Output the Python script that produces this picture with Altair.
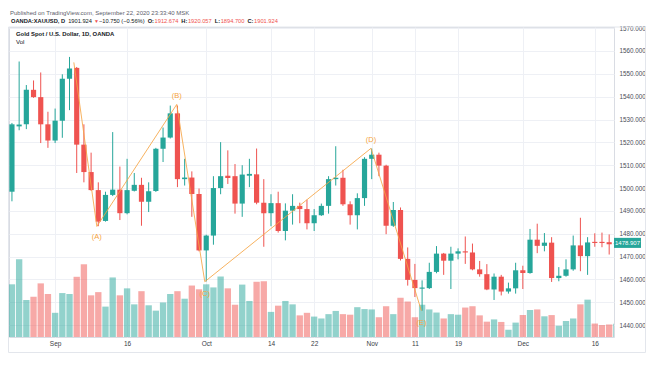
import altair as alt
import pandas as pd
import numpy as np

# ---------------- data ----------------
tick_idx = [6, 16, 27, 36, 42, 50, 56, 62, 71, 81]
tick_labels = ["Sep", "16", "Oct", "14", "22", "Nov", "11", "19", "Dec", "16"]
price_ticks = [1440, 1450, 1460, 1470, 1480, 1490, 1500, 1510, 1520, 1530, 1540, 1550, 1560, 1570]

opens = [1498.4, 1527.0, 1527.9, 1543.0, 1539.8, 1527.9, 1520.8, 1529.5, 1547.8, 1552.6,
         1519.0, 1507.0, 1499.1, 1485.6, 1497.0, 1499.3, 1489.0, 1498.8, 1501.4, 1494.0,
         1498.7, 1517.2, 1522.1, 1532.7, 1503.9, 1504.6, 1497.4, 1472.7, 1479.2, 1500.0,
         1505.4, 1505.2, 1493.2, 1505.4, 1506.0, 1493.6, 1489.0, 1493.4, 1481.2, 1490.1,
         1492.2, 1490.8, 1484.6, 1488.1, 1492.2, 1503.9, 1504.5, 1492.9, 1488.1, 1495.6,
         1512.8, 1514.6, 1509.8, 1483.5, 1490.4, 1469.0, 1459.8, 1456.0, 1456.2, 1463.3,
         1471.3, 1468.2, 1471.3, 1472.3, 1471.8, 1464.4, 1462.3, 1455.6, 1461.2, 1454.7,
         1456.1, 1464.0, 1462.8, 1477.4, 1474.7, 1476.1, 1460.6, 1461.6, 1464.4, 1474.9,
         1470.2, 1476.4, 1476.4, 1476.3, 1475.4]
highs = [1528.5, 1555.4, 1545.1, 1547.1, 1550.6, 1533.4, 1534.8, 1549.8, 1557.4, 1553.0,
         1527.9, 1515.5, 1502.5, 1498.4, 1524.5, 1509.4, 1512.8, 1506.6, 1504.5, 1502.5,
         1517.6, 1526.5, 1536.1, 1536.1, 1512.8, 1507.3, 1499.8, 1479.6, 1505.2, 1520.1,
         1516.5, 1510.5, 1510.0, 1512.8, 1517.3, 1503.9, 1497.3, 1498.4, 1493.3, 1497.3,
         1493.6, 1494.9, 1490.8, 1493.2, 1505.2, 1518.3, 1508.0, 1494.2, 1497.7, 1513.5,
         1517.3, 1515.5, 1510.2, 1493.9, 1491.5, 1474.0, 1466.8, 1459.6, 1467.3, 1474.6,
         1471.6, 1474.3, 1473.6, 1478.8, 1475.7, 1468.1, 1466.7, 1462.6, 1462.0, 1458.6,
         1467.3, 1466.0, 1482.1, 1484.4, 1480.3, 1478.5, 1465.4, 1468.8, 1479.2, 1487.0,
         1478.5, 1480.2, 1480.5, 1479.7, 1479.0]
lows = [1494.2, 1525.3, 1525.8, 1539.5, 1519.7, 1517.6, 1519.7, 1522.0, 1534.1, 1506.6,
        1502.5, 1498.8, 1483.3, 1485.3, 1496.5, 1486.0, 1488.5, 1498.5, 1483.5, 1489.5,
        1498.3, 1511.4, 1521.7, 1500.4, 1501.1, 1487.4, 1472.3, 1459.1, 1475.2, 1497.3,
        1501.8, 1488.8, 1487.4, 1500.4, 1492.9, 1474.3, 1483.3, 1480.5, 1477.1, 1484.0,
        1484.6, 1481.9, 1481.2, 1487.8, 1488.8, 1501.1, 1492.2, 1484.0, 1481.9, 1492.2,
        1503.9, 1505.2, 1479.8, 1483.0, 1468.3, 1457.3, 1452.3, 1446.3, 1455.8, 1462.7,
        1462.0, 1455.8, 1468.8, 1466.8, 1464.0, 1461.2, 1455.3, 1451.0, 1453.0, 1453.8,
        1453.8, 1455.8, 1462.5, 1471.5, 1472.3, 1458.9, 1459.2, 1461.2, 1463.8, 1463.6,
        1462.0, 1474.3, 1474.1, 1470.9, 1473.0]
closes = [1527.9, 1527.8, 1543.0, 1539.8, 1527.9, 1520.8, 1529.5, 1547.8, 1552.3, 1519.0,
          1507.0, 1499.1, 1485.3, 1497.0, 1499.3, 1489.0, 1499.1, 1501.4, 1494.0, 1498.6,
          1517.2, 1522.1, 1532.7, 1503.9, 1504.6, 1497.4, 1472.7, 1479.2, 1500.0, 1505.2,
          1504.4, 1493.2, 1505.9, 1506.2, 1493.6, 1489.0, 1493.4, 1481.2, 1490.1, 1492.2,
          1490.8, 1484.6, 1488.1, 1492.2, 1503.9, 1504.5, 1492.9, 1488.1, 1495.6, 1512.8,
          1514.6, 1509.8, 1483.5, 1490.4, 1469.0, 1459.8, 1456.2, 1456.4, 1463.3, 1471.3,
          1468.2, 1471.3, 1472.3, 1471.8, 1464.4, 1462.3, 1455.6, 1461.2, 1454.7, 1456.1,
          1464.0, 1462.8, 1477.4, 1474.7, 1476.1, 1460.6, 1461.6, 1464.4, 1474.9, 1470.2,
          1476.2, 1476.0, 1476.0, 1475.4, 1476.0]
volumes = [56.0, 82.7, 39.3, 42.7, 57.0, 45.7, 25.7, 46.7, 45.7, 64.0,
           77.3, 44.3, 47.7, 32.3, 63.3, 44.3, 51.7, 34.7, 48.7, 33.7,
           28.0, 36.7, 45.7, 48.7, 40.7, 54.7, 50.7, 56.0, 52.7, 64.3,
           51.7, 34.3, 55.7, 38.3, 58.7, 59.3, 26.7, 33.3, 38.3, 34.7,
           23.0, 25.7, 21.7, 19.7, 24.3, 27.7, 24.3, 23.7, 31.7, 29.7,
           29.3, 21.0, 32.7, 24.3, 41.7, 37.7, 21.0, 34.3, 29.3, 26.0,
           19.7, 24.3, 23.7, 31.3, 32.7, 23.0, 16.3, 18.7, 16.0, 7.7,
           15.3, 23.3, 28.7, 29.3, 22.0, 23.3, 12.0, 17.0, 19.7, 34.7,
           39.7, 14.3, 12.7, 13.3, 14.0]

wave_idx = [8.6, 11.8, 22.9, 26.8, 49.9, 56.9]
wave_price = [1555.0, 1483.2, 1536.6, 1459.0, 1517.4, 1446.3]
wave_names = ["(A)", "(B)", "(C)", "(D)", "(E)"]
wave_label_idx = [11.8, 22.9, 26.8, 49.9, 56.9]
wave_label_price = [1478.5, 1540.3, 1453.5, 1521.1, 1441.1]
last_price_text = "1478.907"

header_line1 = "Published on TradingView.com, September 22, 2020 23:33:40 MSK"
# (text, colour key, bold, gap after)
header_line2 = [
    ("OANDA:XAUUSD, D", "dark", True, 3.0),
    ("1901.924", "dark", False, 2.0),
    ("▼", "red", False, 2.0),
    ("−10.750 (−0.56%)", "dark", False, 3.0),
    ("O:", "dark", True, 0.6),
    ("1912.674", "red", False, 3.0),
    ("H:", "dark", True, 0.6),
    ("1920.057", "red", False, 3.0),
    ("L:", "dark", True, 0.6),
    ("1894.700", "red", False, 3.0),
    ("C:", "dark", True, 0.6),
    ("1901.924", "red", False, 0.0),
]
legend_title = "Gold Spot / U.S. Dollar, 1D, OANDA"
legend_sub = "Vol"

# ---------------- frames ----------------
n = len(opens)
assert len(highs) == n and len(lows) == n and len(closes) == n and len(volumes) == n
df = pd.DataFrame({"idx": np.arange(n), "open": opens, "high": highs, "low": lows,
                   "close": closes, "vol": volumes})
df["dir"] = np.where(df["close"] >= df["open"], "up", "down")
df["btop"] = df[["open", "close"]].max(axis=1)
df["bbot"] = df[["open", "close"]].min(axis=1)
mid = (df["btop"] + df["bbot"]) / 2
small = (df["btop"] - df["bbot"]) < 0.5
df.loc[small, "btop"] = mid[small] + 0.25
df.loc[small, "bbot"] = mid[small] - 0.25
df["x1"] = df["idx"] - 0.36
df["x2"] = df["idx"] + 0.36
df["vx1"] = df["idx"] - 0.44
df["vx2"] = df["idx"] + 0.44
df["vzero"] = 0.0

wave_df = pd.DataFrame({"idx": wave_idx, "price": wave_price, "ord": range(len(wave_idx))})
wlab_df = pd.DataFrame({"idx": wave_label_idx, "price": wave_label_price, "name": wave_names})

last_close = closes[-1]
lp_df = pd.DataFrame({"close": [last_close], "lo": [last_close - 2.2], "hi": [last_close + 2.2],
                      "t": [last_price_text]})
one = pd.DataFrame({"a": [0]})

# ---------------- scales / axes ----------------
FONT = "Liberation Sans"
W, H = 605, 310
xscale = alt.Scale(domain=[-0.41, 83.67], nice=False, zero=False)
pscale = alt.Scale(domain=[1434.8, 1570.5], nice=False, zero=False)
vscale = alt.Scale(domain=[0, 329.5], nice=False, zero=False)
cscale = alt.Scale(domain=["up", "down"], range=["#26a69a", "#ef5350"])

expr = " : ".join(f"datum.value == {i} ? '{l}'" for i, l in zip(tick_idx, tick_labels)) + " : ''"
xaxis = alt.Axis(values=tick_idx, labelExpr=expr, title=None, grid=True, gridColor="#eef0f5",
                 ticks=False, domain=False, labelFontSize=6.5, labelColor="#3a3d46",
                 labelPadding=3, labelFont=FONT, labelOverlap=False, labelFlush=False)
yaxis = alt.Axis(orient="right", values=price_ticks, format=".3f", title=None, grid=True,
                 gridColor="#eef0f5", ticks=False, domain=False, labelFontSize=6.3,
                 labelColor="#4a4d57", labelPadding=5, labelFont=FONT, labelOverlap=False,
                 labelFlush=False)

X = alt.X("idx:Q", scale=xscale, axis=xaxis)

vol = alt.Chart(df).mark_rect(opacity=0.5, clip=True).encode(
    x=alt.X("vx1:Q", scale=xscale, axis=xaxis), x2="vx2:Q",
    y=alt.Y("vzero:Q", scale=vscale, axis=None), y2="vol:Q",
    color=alt.Color("dir:N", scale=cscale, legend=None))

wicks = alt.Chart(df).mark_rule(strokeWidth=1, clip=True).encode(
    x=X, y=alt.Y("low:Q", scale=pscale, axis=yaxis), y2="high:Q",
    color=alt.Color("dir:N", scale=cscale, legend=None))

bodies = alt.Chart(df).mark_rect(clip=True).encode(
    x=alt.X("x1:Q", scale=xscale, axis=xaxis), x2="x2:Q",
    y=alt.Y("bbot:Q", scale=pscale, axis=None), y2="btop:Q",
    color=alt.Color("dir:N", scale=cscale, legend=None))

wave = alt.Chart(wave_df).mark_line(color="#f6a544", strokeWidth=1, opacity=0.85, clip=True).encode(
    x=X, y=alt.Y("price:Q", scale=pscale, axis=None), order="ord:Q")

wave_txt = alt.Chart(wlab_df).mark_text(color="#f5a33c", fontSize=7.5, font=FONT).encode(
    x=X, y=alt.Y("price:Q", scale=pscale, axis=None), text="name:N")

lp_box = alt.Chart(lp_df).mark_rect(color="#26a69a").encode(
    x=alt.value(605), x2=alt.value(632),
    y=alt.Y("lo:Q", scale=pscale, axis=None), y2="hi:Q")
lp_txt = alt.Chart(lp_df).mark_text(color="white", fontSize=6, font=FONT).encode(
    x=alt.value(618.5), y=alt.Y("close:Q", scale=pscale, axis=None), text="t:N")

frame = alt.Chart(one).mark_rect(fill=None, fillOpacity=0, stroke="#e3e6ec", strokeWidth=1).encode(
    x=alt.value(-0.5), x2=alt.value(636.5), y=alt.value(0), y2=alt.value(325.5))

# approximate Arial/Liberation advance widths (em) for laying header segments side by side
_NORMAL = {c: 0.556 for c in "0123456789"}
_NORMAL.update({".": 0.278, ",": 0.278, ":": 0.278, " ": 0.278, "(": 0.333, ")": 0.333,
                "%": 0.889, "−": 0.584, "▼": 0.62})
_BOLD = {c: 0.556 for c in "0123456789"}
_BOLD.update({".": 0.278, ",": 0.278, ":": 0.333, " ": 0.278, "O": 0.778, "A": 0.722,
              "N": 0.722, "D": 0.722, "X": 0.667, "U": 0.722, "S": 0.667, "H": 0.722,
              "L": 0.611, "C": 0.722})


def text_width(s, size, bold):
    table = _BOLD if bold else _NORMAL
    return sum(table.get(ch, 0.68) for ch in s) * size


def txt(s, x, y, color="#131722", size=6.0, weight="normal"):
    return alt.Chart(one).mark_text(text=s, align="left", baseline="middle", color=color,
                                    fontSize=size, fontWeight=weight, font=FONT).encode(
        x=alt.value(x), y=alt.value(y))


COLORS = {"dark": "#131722", "red": "#ef5350"}
HS = 5.7
header = [txt(header_line1, 1, -14.5, "#5d606b", 6.0)]
cx = 2.0
for s, ck, bold, gap in header_line2:
    size = 5.0 if s == "▼" else HS
    header.append(txt(s, cx, -6, COLORS[ck], size, "bold" if bold else "normal"))
    cx += text_width(s, size, bold) + gap
header.append(txt(legend_title, 7, 7, "#131722", 5.9, "bold"))
header.append(txt(legend_sub, 7, 15, "#131722", 6.1))

chart = alt.layer(frame, vol, wicks, bodies, wave, wave_txt, lp_box, lp_txt, *header).resolve_scale(
    y="independent").properties(
    width=W, height=H,
    autosize=alt.AutoSizeParams(type="none"),
    padding={"left": 1, "top": 19, "right": 32, "bottom": 16},
    background="white",
).configure_view(stroke="#d9dce3", strokeWidth=1)

chart.save("out.html", embed_options={"renderer": "svg", "actions": False})
